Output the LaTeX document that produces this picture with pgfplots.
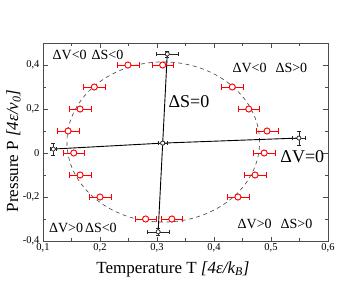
\documentclass[border=0pt]{standalone}
\usepackage{pgfplots}
\pgfplotsset{compat=1.18}
\usepackage{pgfplotstable}
\usepackage{fontspec}
\setmainfont{Liberation Serif}

\pgfplotstableread{
T P ex
0.249 0.40 0.019
0.310 0.40 0.019
0.190 0.30 0.019
0.165 0.20 0.019
0.144 0.10 0.019
0.154 0.00 0.019
0.165 -0.10 0.019
0.200 -0.20 0.019
0.280 -0.30 0.019
0.326 -0.30 0.019
0.442 -0.20 0.019
0.472 -0.10 0.019
0.488 0.00 0.019
0.493 0.10 0.019
0.461 0.20 0.019
0.432 0.30 0.019
}\redpts

\pgfplotstableread{
T P ex ey
0.318 0.450 0.019 0.015
0.310 0.045 0.008 0.006
0.302 -0.358 0.020 0.015
}\dSline

\pgfplotstableread{
T P ex ey
0.118 0.018 0.006 0.028
0.310 0.045 0.008 0.006
0.549 0.068 0.011 0.032
}\dVline

\begin{document}
\begin{tikzpicture}
\useasboundingbox (-43pt,-46pt) rectangle (294pt,241pt);
\begin{axis}[
  at={(0,0)}, anchor=south west,
  scale only axis, width=285pt, height=198pt,
  xmin=0.1, xmax=0.6, ymin=-0.4, ymax=0.5,
  xtick={0.1,0.2,0.3,0.4,0.5,0.6},
  ytick={-0.4,-0.2,0,0.2,0.4},
  minor x tick num=1, minor y tick num=1,
  tick align=inside,
  major tick length=4.5pt, minor tick length=3pt,
  /pgf/number format/use comma,
  /pgf/number format/assume math mode=true,
  ticklabel style={font=\fontsize{10.5}{12}\selectfont},
  xticklabel style={yshift=1pt},
  axis line style={black!70, line width=0.8pt},
  every tick/.style={black!70, line width=0.6pt},
  xlabel={Temperature T \textit{[4ε/k\textsubscript{B}]}},
  ylabel={Pressure P \textit{[4ε/v\textsubscript{0}]}},
  every axis x label/.style={at={(axis description cs:0.456,0)}, anchor=base, yshift=-32pt, font=\fontsize{17}{20}\selectfont},
  every axis y label/.style={at={(axis description cs:-0.1035,0.455)}, rotate=90, anchor=center, font=\fontsize{17}{20}\selectfont},
  clip=false,
]
% dashed guide ellipse
\draw[black!70, line width=0.65pt, dash pattern=on 4pt off 3.5pt] (axis cs:0.311,0.05) ellipse [x radius=0.169, y radius=0.364];

% black lines
\addplot[black, line width=0.9pt, mark=none] table[x=T, y=P] {\dSline};
\addplot[black, line width=0.9pt, mark=none] table[x=T, y=P] {\dVline};
% black error bars + marks
\addplot[black!85, line width=0.6pt, only marks, mark=*, mark size=2pt, mark options={fill=white},
  error bars/.cd, x dir=both, x explicit, y dir=both, y explicit]
  table[x=T, y=P, x error=ex, y error=ey] {\dSline};
\addplot[black!85, line width=0.6pt, only marks, mark=*, mark size=2pt, mark options={fill=white},
  error bars/.cd, x dir=both, x explicit, y dir=both, y explicit]
  table[x=T, y=P, x error=ex, y error=ey] {\dVline};

% red points with error bars
\addplot[red, line width=0.8pt, only marks, mark=*, mark size=3pt, mark options={fill=white},
  error bars/.cd, x dir=both, x explicit]
  table[x=T, y=P, x error=ex] {\redpts};
\addplot[red, line width=0.8pt, only marks, mark=*, mark size=3pt, mark options={fill=white}]
  table[x=T, y=P] {\redpts};
\addplot[black!85, line width=0.6pt, only marks, mark=*, mark size=2pt, mark options={fill=white}]
  table[x=T, y=P] {\dSline};
\addplot[black!85, line width=0.6pt, only marks, mark=*, mark size=2pt, mark options={fill=white}]
  table[x=T, y=P] {\dVline};

% annotations
\node[font=\fontsize{14}{16}\selectfont] at (axis cs:0.179,0.445) {ΔV<0\hspace{5pt}ΔS<0};
\node[font=\fontsize{14}{16}\selectfont] at (axis cs:0.498,0.386) {ΔV<0\hspace{9pt}ΔS>0};
\node[font=\fontsize{14}{16}\selectfont] at (axis cs:0.170,-0.341) {ΔV>0\hspace{2pt}ΔS<0};
\node[font=\fontsize{14}{16}\selectfont] at (axis cs:0.507,-0.323) {ΔV>0\hspace{9pt}ΔS>0};
\node[font=\fontsize{18}{20}\selectfont] at (axis cs:0.356,0.234) {ΔS=0};
\node[font=\fontsize{18}{20}\selectfont] at (axis cs:0.555,-0.018) {ΔV=0};
\end{axis}
\end{tikzpicture}
\end{document}
